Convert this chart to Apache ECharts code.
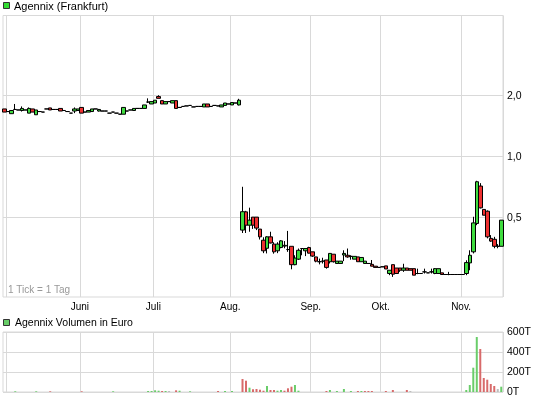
<!DOCTYPE html>
<html>
<head>
<meta charset="utf-8">
<script src="https://cdn.jsdelivr.net/npm/echarts@6/dist/echarts.min.js"></script>
<style>
html,body{margin:0;padding:0;background:#fff;}
#chart{width:545px;height:401px;}
</style>
</head>
<body>
<div id="chart"></div>
<script>
// ---- data ----
const firstDay = '2012-04-30';
const lastDay = '2012-11-16';
const closedDays = ['2012-05-01', '2012-05-28'];
const monthKeys = ['06', '07', '08', '09', '10', '11'];
const monthNames = ['Juni', 'Juli', 'Aug.', 'Sep.', 'Okt.', 'Nov.'];
const yTickValues = [0.5, 1, 2];
const yTickLabels = ['0,5', '1,0', '2,0'];
const volTickLabels = ['0T', '200T', '400T', '600T'];

// [open, close, low, high]
const candles = [
[1.72,1.66,1.66,1.72],[1.67,1.67,1.67,1.67],[1.63,1.69,1.63,1.69],[1.71,1.71,1.70,1.82],[1.70,1.70,1.70,1.70],
[1.69,1.73,1.67,1.77],[1.70,1.70,1.70,1.70],[1.64,1.73,1.64,1.75],[1.72,1.66,1.66,1.72],[1.61,1.70,1.61,1.70],
[1.67,1.67,1.67,1.67],[1.66,1.66,1.66,1.66],[1.72,1.72,1.72,1.72],[1.74,1.70,1.70,1.74],[1.71,1.71,1.71,1.71],
[1.71,1.71,1.71,1.71],[1.73,1.68,1.68,1.73],[1.69,1.69,1.69,1.69],[1.67,1.67,1.67,1.67],[1.64,1.64,1.64,1.64],
[1.68,1.72,1.64,1.75],[1.69,1.72,1.69,1.72],[1.75,1.64,1.64,1.75],[1.66,1.66,1.66,1.66],[1.66,1.69,1.66,1.69],
[1.67,1.72,1.67,1.72],[1.72,1.72,1.72,1.72],[1.68,1.71,1.67,1.72],[1.68,1.68,1.68,1.68],[1.68,1.68,1.68,1.68],
[1.64,1.64,1.64,1.64],[1.66,1.66,1.66,1.66],[1.64,1.64,1.64,1.64],[1.62,1.62,1.62,1.62],[1.62,1.75,1.62,1.75],
[1.68,1.68,1.68,1.68],[1.70,1.70,1.70,1.70],[1.69,1.73,1.69,1.73],[1.73,1.73,1.73,1.73],[1.73,1.73,1.73,1.73],
[1.73,1.80,1.73,1.80],[1.86,1.86,1.84,1.94],[1.82,1.87,1.82,1.87],[1.84,1.90,1.84,1.90],[1.98,1.94,1.94,2.01],
[1.89,1.82,1.82,1.89],[1.82,1.87,1.82,1.87],[1.87,1.87,1.87,1.87],[1.84,1.89,1.84,1.89],[1.89,1.73,1.73,1.89],
[1.75,1.75,1.75,1.75],[1.77,1.77,1.77,1.77],[1.78,1.78,1.78,1.78],[1.79,1.79,1.79,1.79],[1.76,1.76,1.76,1.76],
[1.77,1.77,1.77,1.77],[1.77,1.77,1.77,1.77],[1.76,1.82,1.76,1.82],[1.82,1.76,1.76,1.82],[1.77,1.77,1.77,1.77],
[1.79,1.79,1.79,1.79],[1.78,1.78,1.78,1.78],[1.76,1.80,1.76,1.80],[1.79,1.84,1.79,1.84],[1.82,1.82,1.82,1.82],
[1.80,1.85,1.80,1.85],[1.84,1.84,1.84,1.84],[1.80,1.90,1.79,1.93],
[0.434,0.535,0.42,0.71],[0.534,0.459,0.42,0.54],[0.459,0.486,0.426,0.56],[0.503,0.459,0.44,0.503],[0.503,0.444,0.434,0.503],
[0.439,0.402,0.39,0.439],[0.387,0.343,0.334,0.40],[0.353,0.402,0.333,0.405],[0.402,0.375,0.373,0.426],[0.370,0.339,0.332,0.378],
[0.343,0.370,0.334,0.378],[0.356,0.384,0.353,0.387],[0.362,0.365,0.353,0.383],[0.348,0.348,0.339,0.43],[0.361,0.293,0.278,0.361],
[0.293,0.316,0.291,0.326],[0.312,0.345,0.309,0.352],[0.352,0.352,0.326,0.352],[0.343,0.352,0.323,0.352],[0.356,0.334,0.333,0.359],
[0.339,0.323,0.320,0.339],[0.320,0.305,0.301,0.320],[0.303,0.303,0.294,0.314],[0.305,0.305,0.297,0.317],[0.309,0.284,0.280,0.309],
[0.303,0.333,0.297,0.333],[0.330,0.303,0.300,0.330],[0.297,0.305,0.297,0.305],[0.297,0.305,0.297,0.305],[0.327,0.333,0.305,0.345],
[0.326,0.320,0.317,0.352],[0.322,0.322,0.310,0.326],[0.312,0.322,0.312,0.322],[0.320,0.303,0.303,0.320],[0.303,0.318,0.303,0.318],
[0.297,0.305,0.297,0.305],[0.297,0.297,0.297,0.297],[0.294,0.288,0.288,0.309],[0.288,0.284,0.284,0.288],[0.284,0.284,0.284,0.284],
[0.286,0.286,0.286,0.286],[0.289,0.279,0.279,0.289],[0.265,0.275,0.260,0.275],[0.293,0.263,0.255,0.293],[0.282,0.265,0.265,0.282],
[0.282,0.275,0.270,0.282],[0.275,0.282,0.270,0.296],[0.282,0.275,0.275,0.282],[0.280,0.275,0.275,0.280],[0.280,0.260,0.260,0.280],
[0.265,0.265,0.263,0.280],[0.265,0.265,0.265,0.265],[0.270,0.270,0.265,0.280],[0.267,0.267,0.267,0.267],[0.270,0.270,0.265,0.280],
[0.265,0.280,0.263,0.282],[0.265,0.280,0.265,0.280],[0.267,0.262,0.262,0.267],[0.262,0.262,0.262,0.262],[0.262,0.262,0.260,0.270],
[0.262,0.262,0.262,0.262],[0.262,0.262,0.262,0.262],[0.262,0.262,0.262,0.262],[0.262,0.262,0.262,0.262],[0.265,0.300,0.260,0.308],
[0.299,0.326,0.275,0.345],[0.339,0.471,0.333,0.505],[0.468,0.752,0.459,0.760],[0.716,0.559,0.555,0.740],[0.549,0.514,0.514,0.549],
[0.538,0.402,0.395,0.543],[0.395,0.383,0.380,0.410],[0.391,0.361,0.353,0.402],[0.361,0.361,0.353,0.370],[0.361,0.486,0.361,0.486]
];

// volume in thousand euro (T)
const volumeT = [
0,0,0,7,0,0,0,0,0,7,
0,0,0,7,0,0,0,0,0,0,
0,0,7,0,0,0,0,0,0,0,
0,7,0,0,0,0,0,0,0,0,
0,10,10,17,13,10,10,10,0,17,
13,0,0,7,0,0,0,0,0,0,
0,10,0,10,0,10,0,0,130,113,
43,27,30,23,13,60,20,20,13,20,
13,37,53,70,13,0,0,0,0,0,
0,0,10,20,0,10,0,30,0,10,
0,10,10,10,10,10,0,0,0,10,
0,20,0,0,0,20,10,0,0,0,
0,0,0,0,0,0,0,0,0,0,
0,0,20,70,243,550,430,140,123,80,
60,30,53
];

// ---- trading-day categories ----
function buildTradingDays(start, end, closed) {
  const out = [];
  let d = new Date(start + 'T00:00:00Z');
  const e = new Date(end + 'T00:00:00Z');
  while (d <= e) {
    const wd = d.getUTCDay();
    const s = d.toISOString().slice(0, 10);
    if (wd !== 0 && wd !== 6 && closed.indexOf(s) < 0) out.push(s);
    d = new Date(d.getTime() + 86400000);
  }
  return out;
}
const categories = buildTradingDays(firstDay, lastDay, closedDays);
const monthStart = new Set();
for (let i = 1; i < categories.length; i++) {
  if (categories[i].slice(5, 7) !== categories[i - 1].slice(5, 7)) monthStart.add(i);
}
function monthLabelOf(i) {
  if (!monthStart.has(i)) return '';
  const k = monthKeys.indexOf(categories[i].slice(5, 7));
  return k >= 0 ? monthNames[k] : '';
}

const UP = '#3fdc3f', DOWN = '#ee3030';
const VUP = '#6acd6a', VDOWN = '#d86a6a', VFLAT = '#bdbdbd';
const GRIDC = '#d9d9d9';
const FONT = '"Liberation Sans", Arial, sans-serif';

const chart = echarts.init(document.getElementById('chart'), null, {renderer: 'canvas'});
const option = {
  animation: false,
  backgroundColor: '#fff',
  grid: [
    {left: 3, right: 42, top: 15.5, height: 281.5, show: true, borderColor: GRIDC, borderWidth: 1, backgroundColor: '#fff'},
    {left: 3, right: 42, top: 332, height: 60, show: true, borderColor: GRIDC, borderWidth: 1, backgroundColor: '#fff'}
  ],
  xAxis: [
    {
      type: 'category', gridIndex: 0, data: categories, boundaryGap: true,
      axisLine: {show: false}, axisTick: {show: false},
      axisLabel: {
        interval: function (i) { return monthLabelOf(i) !== ''; },
        formatter: function (v, i) { return monthLabelOf(i); },
        color: '#000', fontSize: 10, fontFamily: FONT, margin: 5, padding: [0, 3.5, 0, 0]
      },
      splitLine: {show: true, interval: function (i) { return monthStart.has(i); }, lineStyle: {color: GRIDC, width: 1}}
    },
    {
      type: 'category', gridIndex: 1, data: categories, boundaryGap: true,
      axisLine: {show: false}, axisTick: {show: false}, axisLabel: {show: false},
      splitLine: {show: true, interval: function (i) { return monthStart.has(i); }, lineStyle: {color: GRIDC, width: 1}}
    }
  ],
  yAxis: [
    {
      type: 'log', logBase: 2, gridIndex: 0, min: 0.2029, max: 4.975, position: 'right',
      axisLine: {show: false}, axisTick: {show: false}, axisLabel: {show: false}, splitLine: {show: false}
    },
    {
      type: 'value', gridIndex: 1, min: 0, max: 600, interval: 200, position: 'right',
      axisLine: {show: false}, axisTick: {show: false},
      axisLabel: {formatter: function (v) { return volTickLabels[Math.round(v / 200)]; }, color: '#000', fontSize: 10.5, fontFamily: FONT, margin: 4},
      splitLine: {show: true, lineStyle: {color: GRIDC, width: 1}}
    }
  ],
  series: [
    {
      type: 'candlestick', xAxisIndex: 0, yAxisIndex: 0, data: candles, barWidth: 4,
      itemStyle: {color: UP, color0: DOWN, borderColor: '#000', borderColor0: '#000', borderWidth: 1},
      markLine: {
        silent: true, symbol: 'none', z: 1, animation: false,
        lineStyle: {color: GRIDC, type: 'solid', width: 1},
        label: {show: true, position: 'end', distance: 4, color: '#000', fontSize: 10.5, fontFamily: FONT},
        data: yTickValues.map(function (v, i) {
          return {yAxis: v, label: {formatter: yTickLabels[i]}};
        })
      }
    },
    {
      type: 'bar', xAxisIndex: 1, yAxisIndex: 1, data: volumeT, barWidth: 2,
      itemStyle: {
        color: function (p) {
          const i = p.dataIndex;
          const c = candles[i][1];
          const prev = i > 0 ? candles[i - 1][1] : c;
          return c > prev ? VUP : (c < prev ? VDOWN : VFLAT);
        }
      }
    }
  ],
  graphic: [
    {type: 'rect', shape: {x: 3.5, y: 2.5, width: 6, height: 6}, style: {fill: '#33dd33', stroke: '#333', lineWidth: 1}},
    {type: 'text', style: {x: 14, y: 6.5, text: 'Agennix (Frankfurt)', fill: '#000', fontSize: 11, fontFamily: FONT, verticalAlign: 'middle'}},
    {type: 'rect', shape: {x: 3.5, y: 319.5, width: 6, height: 6}, style: {fill: '#66cc66', stroke: '#333', lineWidth: 1}},
    {type: 'text', style: {x: 15, y: 323.5, text: 'Agennix Volumen in Euro', fill: '#000', fontSize: 10.5, fontFamily: FONT, verticalAlign: 'middle'}},
    {type: 'text', style: {x: 8, y: 290.5, text: '1 Tick = 1 Tag', fill: '#999', fontSize: 10, fontFamily: FONT, verticalAlign: 'middle'}}
  ]
};
chart.setOption(option);
</script>
</body>
</html>
